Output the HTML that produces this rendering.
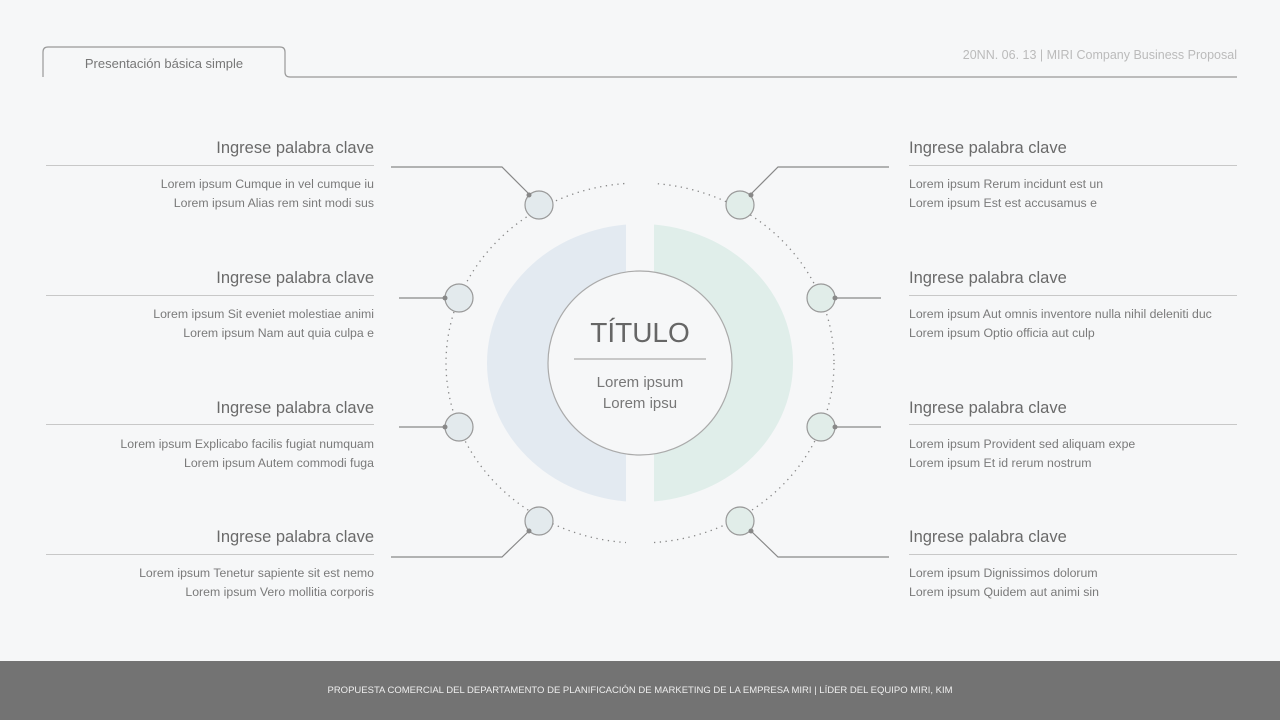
<!DOCTYPE html>
<html><head><meta charset="utf-8"><style>
body{margin:0;width:1280px;height:720px;background:#f6f7f8;font-family:"Liberation Sans",sans-serif;position:relative;overflow:hidden}
.t{position:absolute;font-size:16.5px;color:#6a6a6a;white-space:nowrap}
.b{position:absolute;font-size:12.3px;color:#7a7a7a;line-height:18.5px;white-space:nowrap}
.l{text-align:right;right:906px}
.r{left:909px}
.hl{position:absolute;height:1px;background:#c8c8c8}
</style></head><body>
<svg width="1280" height="720" style="position:absolute;left:0;top:0">
<path d="M43 77 V52 Q43 47 48 47 H280 Q285 47 285 52 V72 Q285 77 290 77 H1237" fill="none" stroke="#999" stroke-width="1.2"/>
<defs><clipPath id="cl"><rect x="0" y="0" width="626" height="720"/></clipPath><clipPath id="cr"><rect x="654" y="0" width="700" height="720"/></clipPath></defs>
<ellipse cx="640" cy="363" rx="153" ry="139" fill="#e3eaf1" clip-path="url(#cl)"/>
<ellipse cx="640" cy="363" rx="153" ry="139" fill="#e0eeea" clip-path="url(#cr)"/>
<ellipse cx="640" cy="363" rx="194" ry="180" fill="none" stroke="#888" stroke-width="1.3" stroke-dasharray="1.3 4.5" clip-path="url(#cl)"/>
<ellipse cx="640" cy="363" rx="194" ry="180" fill="none" stroke="#888" stroke-width="1.3" stroke-dasharray="1.3 4.5" clip-path="url(#cr)"/>
<circle cx="640" cy="363" r="92" fill="#f6f7f8" stroke="#aaa" stroke-width="1.2"/>
<line x1="574" y1="359" x2="706" y2="359" stroke="#999"/>
<g fill="none" stroke="#888" stroke-width="1.2">
<polyline points="391,167 502,167 529,194"/><polyline points="399,298 445,298"/><polyline points="399,427 445,427"/><polyline points="391,557 502,557 529,531"/>
<polyline points="889,167 778,167 751,194"/><polyline points="881,298 835,298"/><polyline points="881,427 835,427"/><polyline points="889,557 778,557 751,531"/>
</g>
<g stroke="#999" stroke-width="1.2">
<circle cx="539" cy="205" r="14" fill="#e3eaed"/><circle cx="459" cy="298" r="14" fill="#e3eaed"/><circle cx="459" cy="427" r="14" fill="#e3eaed"/><circle cx="539" cy="521" r="14" fill="#e3eaed"/>
<circle cx="740" cy="205" r="14" fill="#e1ede9"/><circle cx="821" cy="298" r="14" fill="#e1ede9"/><circle cx="821" cy="427" r="14" fill="#e1ede9"/><circle cx="740" cy="521" r="14" fill="#e1ede9"/>
</g>
<g fill="#888"><circle cx="529" cy="195" r="2.5"/><circle cx="445" cy="298" r="2.5"/><circle cx="445" cy="427" r="2.5"/><circle cx="529" cy="531" r="2.5"/><circle cx="751" cy="195" r="2.5"/><circle cx="835" cy="298" r="2.5"/><circle cx="835" cy="427" r="2.5"/><circle cx="751" cy="531" r="2.5"/></g>
<text x="640" y="342" text-anchor="middle" font-size="28" fill="#666" font-family="Liberation Sans">TÍTULO</text>
<text x="640" y="387" text-anchor="middle" font-size="15" fill="#777" font-family="Liberation Sans">Lorem ipsum</text>
<text x="640" y="408" text-anchor="middle" font-size="15" fill="#777" font-family="Liberation Sans">Lorem ipsu</text>
</svg>
<div style="position:absolute;left:43px;width:242px;top:56px;text-align:center;font-size:13px;color:#777">Presentación básica simple</div>
<div style="position:absolute;right:43px;top:48px;font-size:12.5px;color:#bbb">20NN. 06. 13 | MIRI Company Business Proposal</div>

<div class="t l" style="top:139px">Ingrese palabra clave</div><div class="hl" style="left:46px;width:328px;top:165px"></div>
<div class="b l" style="top:175px">Lorem ipsum Cumque in vel cumque iu<br>Lorem ipsum Alias rem sint modi sus</div>
<div class="t l" style="top:269px">Ingrese palabra clave</div><div class="hl" style="left:46px;width:328px;top:295px"></div>
<div class="b l" style="top:305px">Lorem ipsum Sit eveniet molestiae animi<br>Lorem ipsum Nam aut quia culpa e</div>
<div class="t l" style="top:399px">Ingrese palabra clave</div><div class="hl" style="left:46px;width:328px;top:424px"></div>
<div class="b l" style="top:435px">Lorem ipsum Explicabo facilis fugiat numquam<br>Lorem ipsum Autem commodi fuga</div>
<div class="t l" style="top:528px">Ingrese palabra clave</div><div class="hl" style="left:46px;width:328px;top:554px"></div>
<div class="b l" style="top:564px">Lorem ipsum Tenetur sapiente sit est nemo<br>Lorem ipsum Vero mollitia corporis</div>

<div class="t r" style="top:139px">Ingrese palabra clave</div><div class="hl" style="left:909px;width:328px;top:165px"></div>
<div class="b r" style="top:175px">Lorem ipsum Rerum incidunt est un<br>Lorem ipsum Est est accusamus e</div>
<div class="t r" style="top:269px">Ingrese palabra clave</div><div class="hl" style="left:909px;width:328px;top:295px"></div>
<div class="b r" style="top:305px">Lorem ipsum Aut omnis inventore nulla nihil deleniti duc<br>Lorem ipsum Optio officia aut culp</div>
<div class="t r" style="top:399px">Ingrese palabra clave</div><div class="hl" style="left:909px;width:328px;top:424px"></div>
<div class="b r" style="top:435px">Lorem ipsum Provident sed aliquam expe<br>Lorem ipsum Et id rerum nostrum</div>
<div class="t r" style="top:528px">Ingrese palabra clave</div><div class="hl" style="left:909px;width:328px;top:554px"></div>
<div class="b r" style="top:564px">Lorem ipsum Dignissimos dolorum<br>Lorem ipsum Quidem aut animi sin</div>

<div style="position:absolute;left:0;top:661px;width:1280px;height:59px;background:#737373;color:#eee;font-size:9.5px;text-align:center;line-height:59px">PROPUESTA COMERCIAL DEL DEPARTAMENTO DE PLANIFICACIÓN DE MARKETING DE LA EMPRESA MIRI | LÍDER DEL EQUIPO MIRI, KIM</div>
</body></html>
